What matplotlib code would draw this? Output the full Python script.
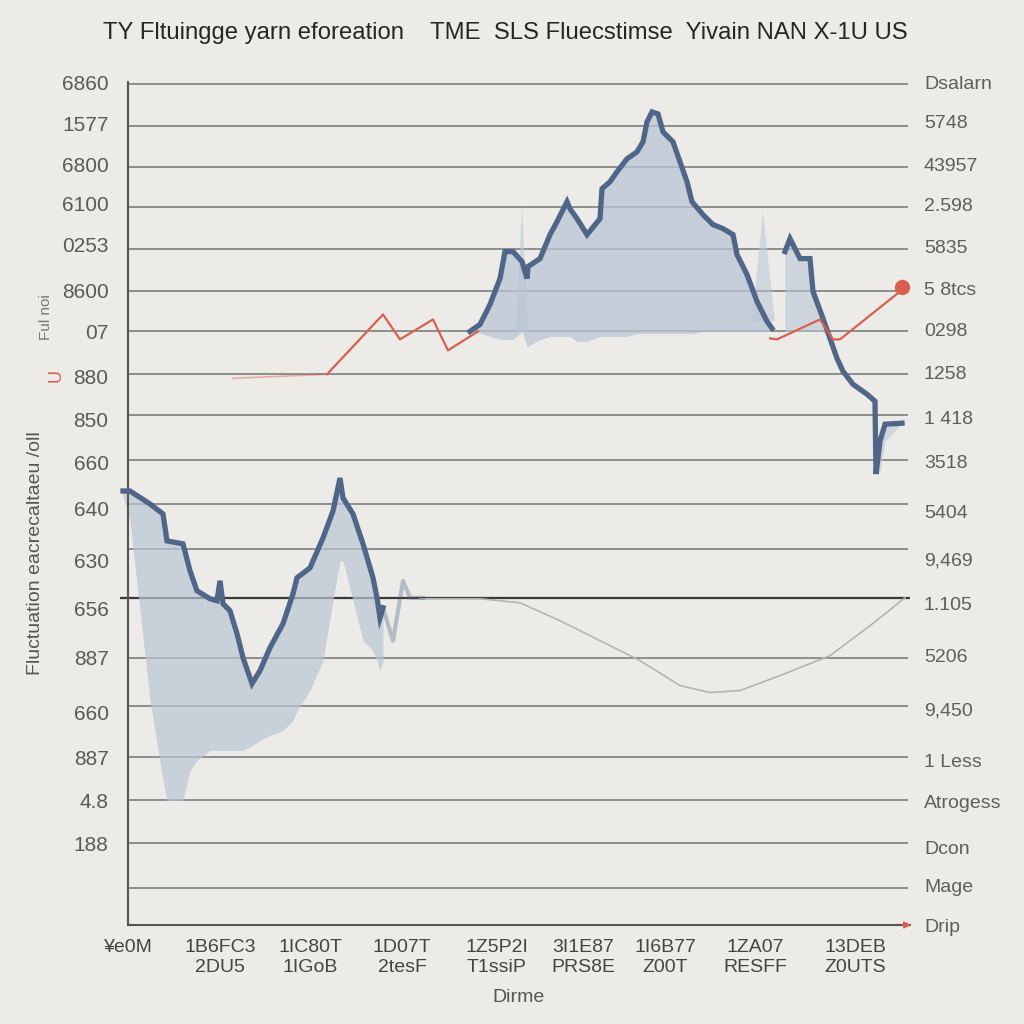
import numpy as np
import matplotlib
matplotlib.use("Agg")
import matplotlib.pyplot as plt

plt.rcParams["font.family"] = ["Liberation Sans Narrow", "Liberation Sans", "DejaVu Sans"]

BG = "#ecebe7"
LINE = "#4f6689"
FILL = "#b9c5d5"
RED = "#d9604f"

# chart values (axis runs top->bottom)
upper_x = [470, 480, 490, 500, 505, 513, 522, 527, 528, 540, 550, 557, 567, 570, 577, 587,
           600, 602, 610, 617, 627, 637, 643, 647, 652, 658, 663, 673, 680, 687, 692, 703,
           713, 723, 733, 737, 747, 757, 767, 772]
upper_y = [330, 323, 303, 277, 250, 250, 260, 277, 265, 257, 233, 220, 200, 207, 217, 233,
           217, 187, 180, 170, 157, 150, 140, 120, 110, 112, 130, 140, 160, 180, 200, 213,
           223, 227, 233, 253, 273, 300, 320, 327]
upper_low = [330, 332, 335, 338, 338, 338, 330, 345, 345, 338, 335, 335, 335, 335, 340, 340,
             335, 335, 335, 335, 335, 332, 332, 332, 332, 332, 332, 332, 332, 332, 332, 330,
             330, 330, 330, 330, 330, 330, 330, 330]

upper2_x = [785, 790, 800, 810, 813, 823, 830, 837, 843, 853, 867, 875, 876, 880, 885, 902]
upper2_y = [250, 237, 257, 257, 290, 317, 337, 357, 370, 383, 393, 400, 473, 440, 423, 422]
upper2_low = [330, 330, 330, 330, 330, 330, 337, 357, 370, 383, 393, 400, 473, 470, 440, 422]

ghost_x = [[516, 522, 528], [752, 763, 775]]
ghost_y = [[330, 203, 330], [320, 210, 320]]

lower_x = [123, 130, 150, 163, 167, 183, 190, 197, 210, 217, 220, 223, 230, 237, 243, 252,
           260, 270, 283, 293, 297, 310, 323, 333, 340, 343, 353, 363, 373, 377, 380, 383]
lower_y = [490, 490, 503, 513, 540, 543, 570, 590, 598, 600, 580, 603, 610, 633, 657, 683,
           670, 647, 623, 593, 577, 567, 537, 510, 477, 497, 513, 543, 577, 597, 617, 607]
lower_low = [495, 520, 700, 780, 800, 800, 770, 760, 750, 750, 750, 750, 750, 750, 750, 745,
             740, 735, 730, 720, 710, 690, 660, 600, 560, 560, 600, 640, 650, 660, 670, 660]
lower_tail_x = [383, 393, 403, 410, 423]
lower_tail_y = [607, 640, 580, 597, 597]

gray_x = [420, 480, 520, 560, 600, 640, 680, 710, 740, 780, 830, 870, 905]
gray_y = [598, 598, 602, 620, 640, 660, 685, 692, 690, 675, 655, 625, 597]

red_x = [233, 327, 383, 400, 433, 448, 478]
red_y = [377, 373, 313, 338, 318, 349, 330]
red2_x = [770, 777, 820, 833, 840, 900]
red2_y = [337, 338, 318, 338, 338, 290]
red_dot = (902, 285)

grid_pos = [82, 124, 165, 205, 247, 289, 330, 373, 414, 459, 503, 548, 657, 705, 757, 800,
            843, 888]
mid_line = 597

left_pos = [80, 122, 163, 202, 243, 289, 330, 375, 418, 461, 508, 560, 608, 657, 712, 757,
            800, 843]
left_labels = ["6860", "1577", "6800", "6100", "0253", "8600", "07", "880", "850", "660",
               "640", "630", "656", "887", "660", "887", "4.8", "188"]

right_pos = [82, 122, 165, 205, 247, 289, 330, 373, 418, 462, 513, 560, 605, 657, 710, 762,
             803, 849, 887, 927]
right_labels = ["Dsalarn", "5748", "43957", "2.598", "5835", "5 8tcs", "0298", "1258",
                "1 418", "3518", "5404", "9,469", "1.105", "5206", "9,450", "1 Less",
                "Atrogess", "Dcon", "Mage", "Drip"]

x_pos = [128, 220, 310, 402, 497, 583, 665, 755, 855]
x_labels = ["¥e0M\n", "1B6FC3\n2DU5", "1IC80T\n1IGoB", "1D07T\n2tesF", "1Z5P2I\nT1ssiP",
            "3I1E87\nPRS8E", "1I6B77\nZ00T", "1ZA07\nRESFF", "13DEB\nZ0UTS"]

title = "TY Fltuingge yarn eforeation    TME  SLS Fluecstimse  Yivain NAN X-1U US"

fig = plt.figure(figsize=(10.24, 10.24), dpi=100, facecolor=BG)
ax = fig.add_axes([128 / 1024, 99 / 1024, 782 / 1024, 843 / 1024], facecolor=BG)
ax.set_xlim(128, 910)
ax.set_ylim(925, 82)

ax.hlines(grid_pos, 128, 908, color="#8e8e8e", lw=1.4, zorder=1)
ax.hlines(mid_line, 120, 910, color="#3a3a3a", lw=1.6, zorder=1, clip_on=False)

# soft areas
ax.fill_between(upper_x, upper_y, upper_low, color=FILL, alpha=0.75, lw=0, zorder=2)
ax.fill_between(upper2_x, upper2_y, upper2_low, color=FILL, alpha=0.6, lw=0, zorder=2)
for gx, gy in zip(ghost_x, ghost_y):
    ax.fill(gx, gy, color=FILL, alpha=0.55, lw=0, zorder=2)
ax.fill_between(lower_x, lower_y, lower_low, color=FILL, alpha=0.7, lw=0, zorder=2,
                clip_on=False)

ax.plot(gray_x, gray_y, color="#b4b4b4", lw=1.2, zorder=3)
ax.plot(red_x[:2], red_y[:2], color=RED, lw=1.2, alpha=0.45, zorder=3)
ax.plot(red_x[1:], red_y[1:], color=RED, lw=1.6, zorder=3)

ax.plot(upper_x, upper_y, color=LINE, lw=3.8, solid_joinstyle="miter", zorder=4)
ax.plot(upper2_x, upper2_y, color=LINE, lw=3.8, solid_joinstyle="miter", zorder=4)
ax.plot(lower_x, lower_y, color=LINE, lw=3.8, solid_joinstyle="miter", zorder=4,
        clip_on=False)
ax.plot(lower_tail_x, lower_tail_y, color=LINE, lw=3.0, alpha=0.35, zorder=4)

ax.plot(red2_x, red2_y, color=RED, lw=1.6, zorder=5)
ax.plot(*red_dot, "o", color=RED, ms=10, zorder=5)

for s in ["top", "right"]:
    ax.spines[s].set_visible(False)
for s in ["left", "bottom"]:
    ax.spines[s].set_color("#555555")
    ax.spines[s].set_linewidth(1.5)
ax.annotate("", xy=(914, 925), xytext=(900, 925), annotation_clip=False,
            arrowprops=dict(arrowstyle="-|>", color=RED, lw=1.2))

ax.set_yticks(left_pos)
ax.set_yticklabels(left_labels, fontsize=15, color="#5a5a5a")
ax.tick_params(axis="y", length=0, pad=14)

ax.set_xticks(x_pos)
ax.set_xticklabels(x_labels, fontsize=14, color="#444444", linespacing=1.25)
ax.tick_params(axis="x", length=0, pad=10)
ax.set_xlabel("Dirme", fontsize=14, color="#555555", labelpad=9)

ax2 = ax.twinx()
ax2.set_ylim(925, 82)
ax2.set_yticks(right_pos)
ax2.set_yticklabels(right_labels, fontsize=14, color="#5e5e5e")
ax2.tick_params(axis="y", length=0, pad=10)
for s in ax2.spines.values():
    s.set_visible(False)

fig.text(0.493, 0.968, title, ha="center", va="center", fontsize=17.2, color="#262626")
fig.text(0.035, 0.46, "Fluctuation eacrecaltaeu /oll", rotation=90, ha="center",
         va="center", fontsize=14, color="#555555")
fig.text(0.045, 0.69, "Ful noi", rotation=90, ha="center", va="center", fontsize=11,
         color="#777777")
fig.text(0.055, 0.633, "U", rotation=90, ha="center", va="center", fontsize=13, color=RED)

fig.savefig("out.png", dpi=100, facecolor=BG)
